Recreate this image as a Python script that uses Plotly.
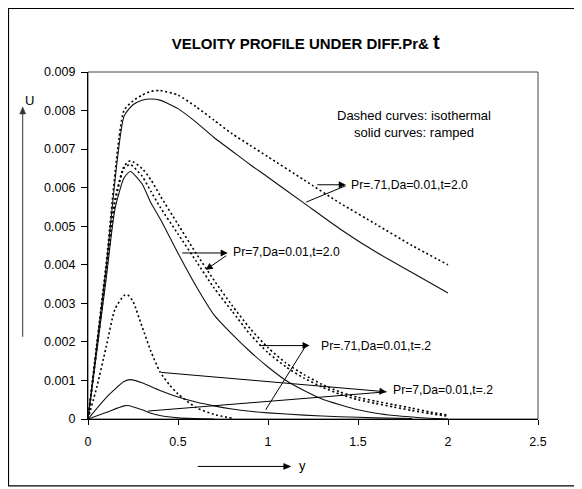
import plotly.graph_objects as go

# ---------------- data ----------------
x_c1 = [0, 0.1, 0.2, 0.25, 0.3, 0.35, 0.4, 0.5, 0.6, 0.7, 0.8, 0.9, 1.0, 1.2, 1.4, 1.6, 1.8, 2.0]
u_pr071_t2_ramped = [0, 0.0039, 0.00785, 0.00815, 0.00827, 0.0083, 0.00827, 0.00805, 0.0077, 0.0073,
                     0.00695, 0.0066, 0.00627, 0.0056, 0.00493, 0.00433, 0.0038, 0.00327]
u_pr071_t2_iso = [0, 0.004, 0.008, 0.00825, 0.0084, 0.0085, 0.00852, 0.0084, 0.0081, 0.00775,
                  0.0074, 0.0071, 0.0068, 0.0062, 0.0056, 0.00505, 0.0045, 0.004]

x_c2 = [0, 0.05, 0.1, 0.15, 0.2, 0.235, 0.3, 0.35, 0.4, 0.5, 0.6, 0.7, 0.8, 0.9, 1.0,
        1.1, 1.2, 1.3, 1.4, 1.5, 1.6, 1.7, 1.8, 1.9, 2.0]
u_pr7_t2_ramped = [0, 0.0018, 0.0036, 0.00545, 0.00625, 0.00642, 0.0061, 0.0056, 0.0052, 0.0043,
                   0.00345, 0.0027, 0.0022, 0.00175, 0.00135, 0.001, 0.00074, 0.00052, 0.00037,
                   0.00024, 0.00015, 0.00009, 0.00005, 0.00002, 0.0]
u_pr7_t2_iso_a = [0, 0.0019, 0.0038, 0.0057, 0.00655, 0.0067, 0.0065, 0.0062, 0.0058, 0.00505,
                  0.0043, 0.0036, 0.00295, 0.00235, 0.00185, 0.00145, 0.00115, 0.0009, 0.0007,
                  0.00056, 0.00046, 0.00037, 0.00028, 0.00018, 0.0001]
u_pr7_t2_iso_b = [0, 0.00185, 0.00375, 0.0056, 0.0065, 0.0066, 0.0063, 0.0059, 0.0055, 0.0048,
                  0.0041, 0.0034, 0.0028, 0.0022, 0.00172, 0.00135, 0.00106, 0.00083, 0.00064,
                  0.0005, 0.0004, 0.00031, 0.00022, 0.00014, 0.00007]

x_c3d = [0, 0.05, 0.1, 0.15, 0.2, 0.22, 0.25, 0.3, 0.35, 0.4, 0.45, 0.5, 0.6, 0.7, 0.8]
u_t02_iso = [0, 0.00085, 0.00185, 0.00285, 0.0032, 0.00322, 0.00305, 0.0024, 0.00175, 0.00122,
             0.0009, 0.00065, 0.0003, 0.00012, 0.00002]

x_c3s = [0, 0.1, 0.2, 0.235, 0.3, 0.4, 0.5, 0.6, 0.7, 0.8, 0.9, 1.0, 1.2, 1.4, 1.6, 1.8]
u_pr071_t02_ramped = [0, 0.00055, 0.00097, 0.00102, 0.00094, 0.00074, 0.00057, 0.00044, 0.00034,
                      0.00026, 0.0002, 0.00016, 0.0001, 0.00006, 0.00003, 0.00001]

x_c4s = [0, 0.1, 0.2, 0.22, 0.3, 0.35, 0.4, 0.5, 0.6, 0.7]
u_pr7_t02_ramped = [0, 0.00017, 0.00034, 0.00035, 0.00024, 0.00015, 0.00009, 0.00003, 0.00001, 0]

x_tickvals = [0, 0.5, 1, 1.5, 2, 2.5]
x_ticktext = ["0", "0.5", "1", "1.5", "2", "2.5"]
y_tickvals = [0, 0.001, 0.002, 0.003, 0.004, 0.005, 0.006, 0.007, 0.008, 0.009]
y_ticktext = ["0", "0.001", "0.002", "0.003", "0.004", "0.005", "0.006", "0.007", "0.008", "0.009"]

FONT = "Liberation Sans, Arial, sans-serif"

fig = go.Figure()

solid = dict(color="#111111", width=1.1)
dotted = dict(color="black", width=1.6, dash="2px,2.6px")

series = [
    (x_c1, u_pr071_t2_iso, dotted),
    (x_c1, u_pr071_t2_ramped, solid),
    (x_c2, u_pr7_t2_iso_a, dotted),
    (x_c2, u_pr7_t2_iso_b, dotted),
    (x_c2, u_pr7_t2_ramped, solid),
    (x_c3d, u_t02_iso, dotted),
    (x_c3s, u_pr071_t02_ramped, solid),
    (x_c4s, u_pr7_t02_ramped, solid),
]
for xs, ys, ln in series:
    fig.add_trace(go.Scatter(x=xs, y=ys, mode="lines", line=dict(shape="spline", smoothing=0.6, **ln),
                             hoverinfo="skip"))

ann = []

def arrow(tip, tail, head=2):
    ann.append(dict(x=tip[0], y=tip[1], ax=tail[0], ay=tail[1], xref="x", yref="y",
                    axref="x", ayref="y", text="", showarrow=True, arrowhead=head,
                    arrowsize=1.4, arrowwidth=1, arrowcolor="black", standoff=0, startstandoff=0))

def label(x, y, txt):
    ann.append(dict(x=x, y=y, xref="x", yref="y", text=txt, showarrow=False, xanchor="left",
                    yanchor="middle", font=dict(family=FONT, size=12.2, color="black")))

# Pr=.71, t=2.0
arrow((1.432, 0.006075), (1.265, 0.006075))
arrow((1.432, 0.00605), (1.204, 0.00561), head=0)
label(1.452, 0.00607, "Pr=.71,Da=0.01,t=2.0")
# Pr=7, t=2.0
arrow((0.776, 0.004306), (0.515, 0.004306))
arrow((0.654, 0.00387), (0.776, 0.00426))
label(0.796, 0.00432, "Pr=7,Da=0.01,t=2.0")
# Pr=.71, t=.2
arrow((1.231, 0.001904), (0.944, 0.001904))
arrow((1.209, 0.00189), (0.982, 0.000202), head=0)
label(1.284, 0.0019, "Pr=.71,Da=0.01,t=.2")
# Pr=7, t=.2
arrow((1.658, 0.000705), (0.398, 0.001212))
arrow((1.658, 0.000705), (0.324, 0.000202), head=0)
label(1.684, 0.000764, "Pr=7,Da=0.01,t=.2")

# note
ann.append(dict(x=0.7238, y=0.85, xref="paper", yref="paper", showarrow=False,
                xanchor="center", yanchor="middle",
                text="Dashed curves: isothermal<br>solid curves: ramped", align="center",
                font=dict(family=FONT, size=13, color="black")))
# axis titles
ann.append(dict(x=-0.1296, y=0.919, xref="paper", yref="paper", showarrow=False, text="U",
                xanchor="center", yanchor="middle",
                font=dict(family=FONT, size=13, color="black")))
ann.append(dict(x=0.477, y=-0.133, xref="paper", yref="paper", showarrow=False, text="y",
                xanchor="center", yanchor="middle",
                font=dict(family=FONT, size=13, color="black")))

shapes = [
    # plot-area border
    dict(type="rect", xref="paper", yref="paper", x0=0, x1=1, y0=0, y1=1,
         line=dict(color="#444444", width=1), layer="below"),
    # outer chart border
    dict(type="rect", xref="paper", yref="paper", x0=-0.1767, x1=1.0844, y0=-0.193, y1=1.183,
         line=dict(color="black", width=1.2)),
    # vertical axis-title arrow (U)
    dict(type="line", xref="paper", yref="paper", x0=-0.1451, x1=-0.1451, y0=0.237, y1=0.885,
         line=dict(color="#333333", width=1)),
    dict(type="path", xref="paper", yref="paper",
         path="M -0.1451 0.8993 L -0.1518 0.8791 L -0.1384 0.8791 Z",
         fillcolor="#333333", line=dict(color="#333333", width=0.5)),
    # horizontal axis-title arrow (y)
    dict(type="line", xref="paper", yref="paper", x0=0.2438, x1=0.44, y0=-0.1367, y1=-0.1367,
         line=dict(color="black", width=1)),
    dict(type="path", xref="paper", yref="paper",
         path="M 0.4504 -0.1367 L 0.4349 -0.1281 L 0.4349 -0.1453 Z",
         fillcolor="black", line=dict(color="black", width=0.5)),
]

# page is shown with an 8px body margin, so the figure is sized/offset to compensate
fig.update_layout(
    width=574, height=481,
    margin=dict(l=80, r=44, t=64, b=70),
    paper_bgcolor="white", plot_bgcolor="white",
    showlegend=False,
    font=dict(family=FONT, color="black"),
    title=dict(text="<b>VELOITY PROFILE UNDER DIFF.Pr& <span style='font-size:20px'>t</span></b>",
               x=0.4838, xref="paper", xanchor="center", y=1 - 35.5 / 481, yanchor="middle",
               font=dict(family=FONT, size=15, color="black")),
    annotations=ann,
    shapes=shapes,
)
fig.update_xaxes(range=[0, 2.5], tickvals=x_tickvals, ticktext=x_ticktext, showgrid=False,
                 zeroline=False, showline=True, linecolor="black", linewidth=1.3,
                 ticks="outside", ticklen=5, tickcolor="black", tickwidth=1.3,
                 tickfont=dict(family=FONT, size=12.5, color="black"), ticklabelstandoff=6)
fig.update_yaxes(range=[0, 0.009], tickvals=y_tickvals, ticktext=y_ticktext, showgrid=False,
                 zeroline=False, showline=True, linecolor="black", linewidth=1.3,
                 ticks="outside", ticklen=6, tickcolor="black", tickwidth=1.3,
                 tickfont=dict(family=FONT, size=12.5, color="black"), ticklabelstandoff=3)

fig.write_html("out.html")
